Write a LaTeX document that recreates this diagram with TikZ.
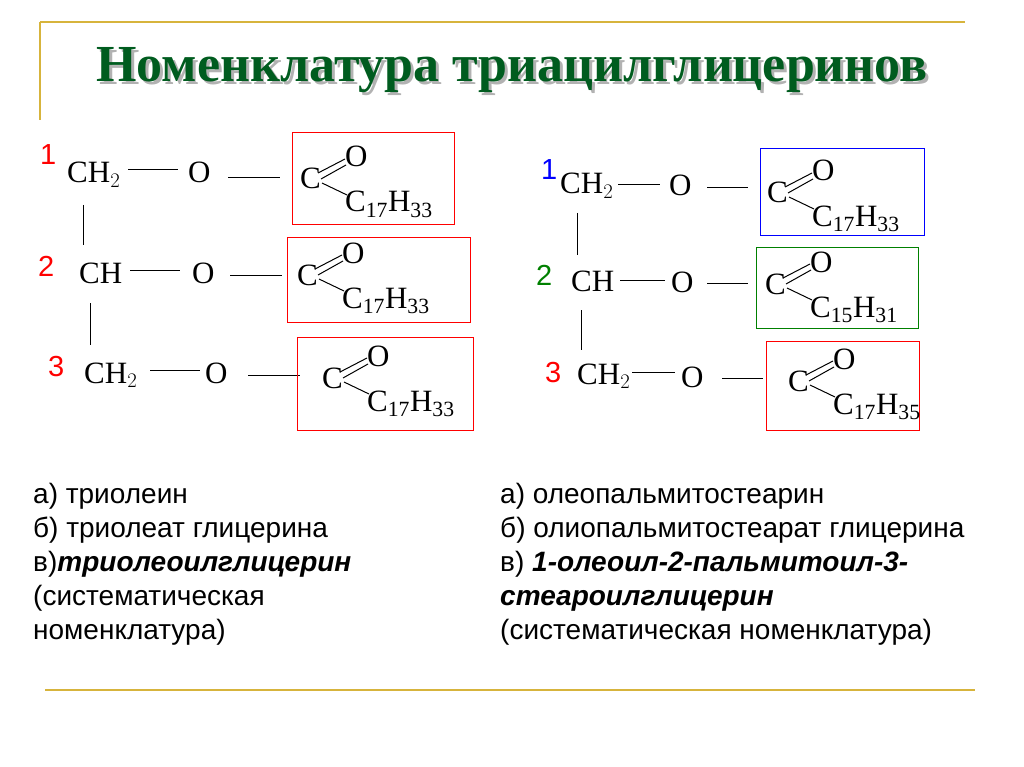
\documentclass[tikz,border=0pt]{standalone}
\usepackage{fontspec}
\setmainfont{Liberation Serif}
\newfontfamily\sansf{Liberation Sans}
\begin{document}
\begin{tikzpicture}[x=1pt,y=-1pt,
 ch/.style={font=\fontsize{31}{34}\selectfont,inner sep=0pt,anchor=base west},
 num/.style={font=\sansf\fontsize{29}{32}\selectfont,inner sep=0pt,anchor=base west},
 txt/.style={font=\sansf\fontsize{28}{32}\selectfont,inner sep=0pt,anchor=base west},
 bond/.style={line width=1pt},
 gold/.style={draw={rgb,255:red,215;green,180;blue,60},line width=1.2pt}]
\useasboundingbox (0,0) rectangle (1024,767);
\definecolor{tgreen}{rgb}{0.0,0.36,0.12}
\draw[gold] (40,22) -- (965,22);
\draw[gold] (40,22) -- (40,120);
\draw[gold] (45,690) -- (975,690);
\node[font=\bfseries\fontsize{52}{56}\selectfont,text=gray!60] (tsh) at (515,73) {Номенклатура триацилглицеринов};
\node[font=\bfseries\fontsize{52}{56}\selectfont,text=tgreen] (title) at (512,70) {Номенклатура триацилглицеринов};
\newcommand\acyl[4]{%
 \node[ch] (c#1) at (#1,#2) {C};
 \node[ch] at (#1+45,#2-22) {O};
 \draw[bond] (#1+18,#2-16) -- (#1+45,#2-30);
 \draw[bond] (#1+21,#2-10) -- (#1+46,#2-24);
 \draw[bond] (#1+22,#2-6) -- (#1+47,#2+6);
 \node[ch] at (#1+45,#2+23) {C$_{\mathrm{#3}}$H$_{\mathrm{#4}}$};}
% left
\node[num,red] at (40,165) {1};
\node[ch] at (67,183) {CH$_2$};
\draw[bond] (128,170) -- (178,170);
\node[ch] at (188,183) {O};
\draw[bond] (228,178) -- (280,178);
\draw[red,line width=1pt] (292,133) rectangle (454,225);
\acyl{300}{189}{17}{33}
\node[num,red] at (38,276) {2};
\node[ch] at (79,283) {CH};
\draw[bond] (130,270) -- (180,270);
\node[ch] at (192,283) {O};
\draw[bond] (230,275) -- (282,275);
\draw[red,line width=1pt] (287,237) rectangle (470,322);
\acyl{297}{285}{17}{33}
\node[num,red] at (48,376) {3};
\node[ch] at (84,383) {CH$_2$};
\draw[bond] (150,370) -- (200,370);
\node[ch] at (205,383) {O};
\draw[bond] (248,375) -- (300,375);
\draw[red,line width=1pt] (297,337) rectangle (473,430);
\acyl{322}{388}{17}{33}
\draw[bond] (83,205) -- (83,245);
\draw[bond] (90,303) -- (90,345);
% right
\node[num,blue] at (541,180) {1};
\node[ch] at (560,194) {CH$_2$};
\draw[bond] (618,185) -- (660,185);
\node[ch] at (669,196) {O};
\draw[bond] (707,188) -- (748,188);
\draw[blue,line width=1pt] (760,149) rectangle (924,235);
\acyl{767}{203}{17}{33}
\node[num,green!50!black] at (536,285) {2};
\node[ch] at (571,291) {CH};
\draw[bond] (620,280) -- (665,280);
\node[ch] at (671,292) {O};
\draw[bond] (707,283) -- (748,283);
\draw[green!50!black,line width=1pt] (756,247) rectangle (918,328);
\acyl{765}{294}{15}{31}
\node[num,red] at (545,382) {3};
\node[ch] at (577,384) {CH$_2$};
\draw[bond] (632,372) -- (675,372);
\node[ch] at (681,387) {O};
\draw[bond] (722,378) -- (763,378);
\draw[red,line width=1pt] (766,341) rectangle (919,430);
\acyl{788}{391}{17}{35}
\draw[bond] (577,213) -- (577,255);
\draw[bond] (581,310) -- (581,350);
% texts
\node[txt] (l1) at (33,503) {а) триолеин};
\node[txt] (l2) at (33,537) {б) триолеат глицерина};
\node[txt] (l3) at (33,571) {в)\textit{\textbf{триолеоилглицерин}}};
\node[txt] (l4) at (33,605) {(систематическая};
\node[txt] (l5) at (33,639) {номенклатура)};
\node[txt] (r1) at (500,503) {а) олеопальмитостеарин};
\node[txt] (r2) at (500,537) {б) олиопальмитостеарат глицерина};
\node[txt] (r3) at (500,571) {в) \textit{\textbf{1-олеоил-2-пальмитоил-3-}}};
\node[txt] (r4) at (500,605) {\textit{\textbf{стеароилглицерин}}};
\node[txt] (r5) at (500,639) {(систематическая номенклатура)};
\end{tikzpicture}
\end{document}
